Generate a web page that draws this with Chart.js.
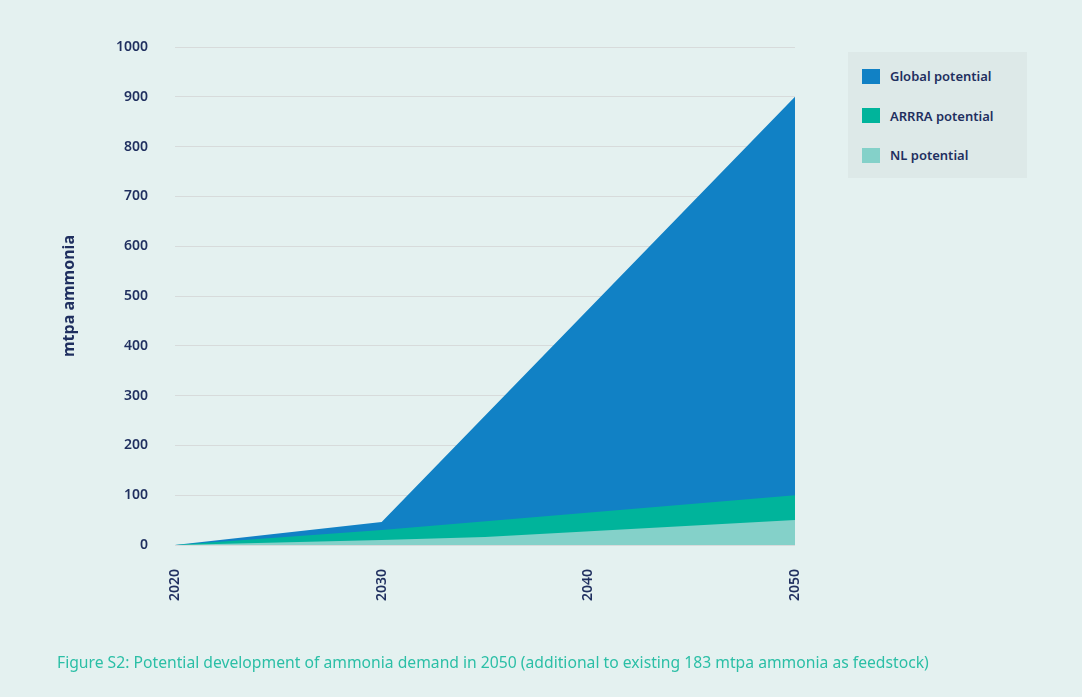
<!DOCTYPE html>
<html>
<head>
<meta charset="utf-8">
<script src="https://cdn.jsdelivr.net/npm/chart.js@4"></script>
<style>
  html, body { margin: 0; padding: 0; background: #e4f1f0; }
  #wrap { position: relative; width: 1082px; height: 697px; overflow: hidden; }
  #chart { position: absolute; left: 0; top: 0; }
  #legend {
    position: absolute; left: 848px; top: 52px; width: 179px; height: 126px;
    background: #dde9e8; box-sizing: border-box; padding: 14px 0 0 14px;
    font-family: "Noto Sans", sans-serif; font-weight: 600; font-size: 13px; color: #1f2f5f;
  }
  .item { display: flex; align-items: center; height: 20px; margin-bottom: 19.5px; }
  .sw { width: 18px; height: 15px; margin-right: 10px; }
  #caption {
    position: absolute; left: 57px; top: 651px;
    font-family: "Noto Sans", sans-serif; font-size: 15.7px; color: #2bbfa6; white-space: nowrap;
  }
</style>
</head>
<body>
<div id="wrap">
  <canvas id="chart" width="1082" height="697"></canvas>
  <div id="legend"></div>
  <div id="caption">Figure S2: Potential development of ammonia demand in 2050 (additional to existing 183 mtpa ammonia as feedstock)</div>
</div>
<script>
// Demand paths in mtpa ammonia (each series starts from zero in 2020)
const globalYears = [2020, 2030, 2050];
const globalValues = [0, 46, 900];

const arrraYears = [2020, 2030, 2050];
const arrraValues = [0, 30, 100];

const nlYears = [2020, 2030, 2035, 2050];
const nlValues = [0, 10, 16, 50];

const yearTicks = [2020, 2030, 2040, 2050];
const seriesNames = ['Global potential', 'ARRRA potential', 'NL potential'];
const seriesColors = ['#1181c5', '#00b49b', '#84d1c9'];

const toPoints = (xs, ys) => xs.map((x, i) => ({ x: x, y: ys[i] }));

const navy = '#1f2f5f';
const areaStyle = { fill: 'origin', pointRadius: 0, borderWidth: 0, tension: 0 };

const datasets = [
  Object.assign({ label: seriesNames[2], data: toPoints(nlYears, nlValues), backgroundColor: seriesColors[2], borderColor: seriesColors[2] }, areaStyle),
  Object.assign({ label: seriesNames[1], data: toPoints(arrraYears, arrraValues), backgroundColor: seriesColors[1], borderColor: seriesColors[1] }, areaStyle),
  Object.assign({ label: seriesNames[0], data: toPoints(globalYears, globalValues), backgroundColor: seriesColors[0], borderColor: seriesColors[0] }, areaStyle)
];

new Chart(document.getElementById('chart'), {
  type: 'line',
  data: { datasets: datasets },
  options: {
    responsive: false,
    animation: false,
    layout: { padding: { left: 55, right: 287, top: 47, bottom: 72 } },
    plugins: { legend: { display: false }, tooltip: { enabled: false } },
    scales: {
      x: {
        type: 'linear',
        min: 2020, max: 2050,
        afterBuildTicks: (s) => { s.ticks = yearTicks.map(v => ({ value: v })); },
        afterFit: (s) => { s.height = 80; },
        grid: { display: false, drawTicks: false },
        border: { display: false },
        ticks: {
          minRotation: 90, maxRotation: 90, padding: 24,
          color: navy, font: { family: 'Noto Sans', size: 14, weight: '600' },
          callback: (v) => String(v)
        }
      },
      y: {
        min: 0, max: 1000,
        afterFit: (s) => { s.width = 120; },
        grid: { color: '#d7dbdb', lineWidth: 1, drawTicks: false },
        border: { display: false },
        ticks: {
          stepSize: 100, padding: 27,
          color: navy, font: { family: 'Noto Sans', size: 14, weight: '600' },
          callback: (v) => String(v)
        },
        title: {
          display: true, text: 'mtpa ammonia', color: navy,
          font: { family: 'Noto Sans', size: 16, weight: '700' },
          padding: { top: 5, bottom: 0 }
        }
      }
    }
  }
});

// Legend entries in the side panel
const legend = document.getElementById('legend');
seriesNames.forEach((name, i) => {
  const row = document.createElement('div');
  row.className = 'item';
  const sw = document.createElement('span');
  sw.className = 'sw';
  sw.style.background = seriesColors[i];
  const label = document.createElement('span');
  label.textContent = name;
  row.appendChild(sw);
  row.appendChild(label);
  legend.appendChild(row);
});
</script>
</body>
</html>
